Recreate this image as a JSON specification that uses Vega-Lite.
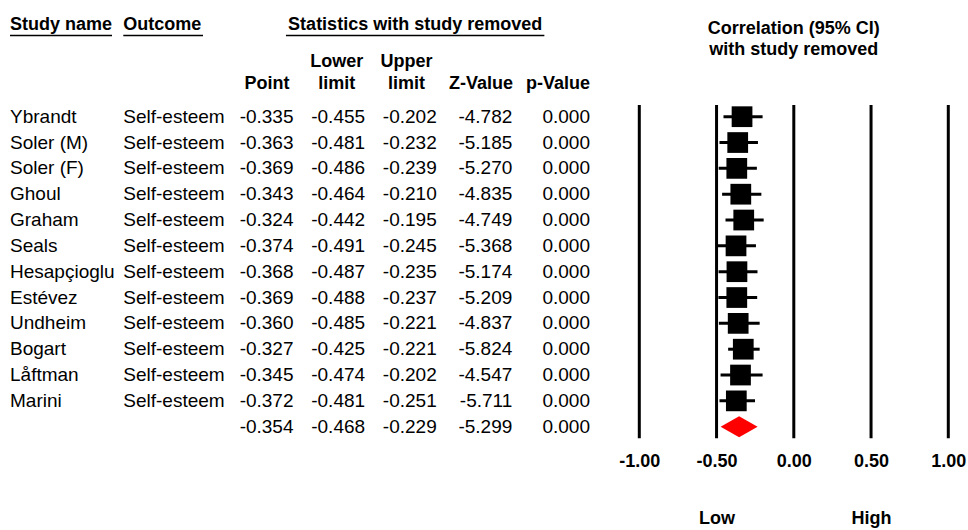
{
  "$schema": "https://vega.github.io/schema/vega-lite/v6.json",
  "width": 968,
  "height": 530,
  "autosize": {"type": "none"},
  "padding": 0,
  "background": "white",
  "config": {
    "view": {"stroke": null},
    "font": "Liberation Sans",
    "locale": {"number": {"decimal": ".", "thousands": ",", "grouping": [3], "currency": ["$", ""], "minus": "-"}}
  },
  "datasets": {
    "studies": [
      {"name": "Ybrandt", "outcome": "Self-esteem", "point": -0.335, "lower": -0.455, "upper": -0.202, "z": -4.782, "p": 0, "row": 1, "type": "study"},
      {"name": "Soler (M)", "outcome": "Self-esteem", "point": -0.363, "lower": -0.481, "upper": -0.232, "z": -5.185, "p": 0, "row": 2, "type": "study"},
      {"name": "Soler (F)", "outcome": "Self-esteem", "point": -0.369, "lower": -0.486, "upper": -0.239, "z": -5.270, "p": 0, "row": 3, "type": "study"},
      {"name": "Ghoul", "outcome": "Self-esteem", "point": -0.343, "lower": -0.464, "upper": -0.210, "z": -4.835, "p": 0, "row": 4, "type": "study"},
      {"name": "Graham", "outcome": "Self-esteem", "point": -0.324, "lower": -0.442, "upper": -0.195, "z": -4.749, "p": 0, "row": 5, "type": "study"},
      {"name": "Seals", "outcome": "Self-esteem", "point": -0.374, "lower": -0.491, "upper": -0.245, "z": -5.368, "p": 0, "row": 6, "type": "study"},
      {"name": "Hesapçioglu", "outcome": "Self-esteem", "point": -0.368, "lower": -0.487, "upper": -0.235, "z": -5.174, "p": 0, "row": 7, "type": "study"},
      {"name": "Estévez", "outcome": "Self-esteem", "point": -0.369, "lower": -0.488, "upper": -0.237, "z": -5.209, "p": 0, "row": 8, "type": "study"},
      {"name": "Undheim", "outcome": "Self-esteem", "point": -0.360, "lower": -0.485, "upper": -0.221, "z": -4.837, "p": 0, "row": 9, "type": "study"},
      {"name": "Bogart", "outcome": "Self-esteem", "point": -0.327, "lower": -0.425, "upper": -0.221, "z": -5.824, "p": 0, "row": 10, "type": "study"},
      {"name": "Låftman", "outcome": "Self-esteem", "point": -0.345, "lower": -0.474, "upper": -0.202, "z": -4.547, "p": 0, "row": 11, "type": "study"},
      {"name": "Marini", "outcome": "Self-esteem", "point": -0.372, "lower": -0.481, "upper": -0.251, "z": -5.711, "p": 0, "row": 12, "type": "study"},
      {"name": "", "outcome": "", "point": -0.354, "lower": -0.468, "upper": -0.229, "z": -5.299, "p": 0, "row": 13, "type": "summary"}
    ],
    "ticks": [{"v": -1}, {"v": -0.5}, {"v": 0}, {"v": 0.5}, {"v": 1}],
    "headLeft": [
      {"text": "Study name", "col": "name", "line": "h1"},
      {"text": "Outcome", "col": "outcome", "line": "h1"}
    ],
    "headStats": [{"text": "Statistics with study removed", "col": "stats", "line": "h1"}],
    "headCenter": [
      {"text": "Point", "col": "point", "line": "h3"},
      {"text": "Lower", "col": "lower", "line": "h2"},
      {"text": "limit", "col": "lower", "line": "h3"},
      {"text": "Upper", "col": "upper", "line": "h2"},
      {"text": "limit", "col": "upper", "line": "h3"}
    ],
    "headRight": [
      {"text": "Z-Value", "col": "z", "line": "h3"},
      {"text": "p-Value", "col": "p", "line": "h3"}
    ],
    "headCorr": [
      {"text": "Correlation (95% CI)", "col": "forest", "line": "c1"},
      {"text": "with study removed", "col": "forest", "line": "c2"}
    ]
  },
  "resolve": {"scale": {"x": "independent", "y": "independent"}, "axis": {"x": "independent", "y": "independent"}},
  "layer": [
    {
      "data": {"name": "ticks"},
      "mark": {"type": "rule", "color": "black", "strokeWidth": 3, "yOffset": -11.7, "y2Offset": 11.6},
      "encoding": {
        "x": {"field": "v", "type": "quantitative",
          "scale": {"domain": [-1, 1], "range": [639.3, 948.3], "zero": false, "nice": false},
          "axis": {"orient": "bottom", "offset": -78, "values": [-1, -0.5, 0, 0.5, 1], "format": ".2f", "domain": false, "ticks": false, "grid": false, "labelPadding": 0, "labelFontSize": 18, "labelFontWeight": "bold", "labelColor": "black", "labelFont": "Liberation Sans", "labelFlush": false, "labelOverlap": false, "labelBound": false, "title": null}},
        "y": {"datum": 1, "type": "ordinal", "scale": {"type": "point", "domain": [1, 2, 3, 4, 5, 6, 7, 8, 9, 10, 11, 12, 13], "range": [116.7, 426.7], "padding": 0}, "axis": null},
        "y2": {"datum": 13}
      }
    },
    {
      "data": {"name": "studies"},
      "transform": [{"filter": "datum.type === 'study'"}],
      "mark": {"type": "rule", "color": "black", "strokeWidth": 3},
      "encoding": {
        "x": {"field": "lower", "type": "quantitative", "scale": {"domain": [-1, 1], "range": [639.3, 948.3], "zero": false, "nice": false}, "axis": null},
        "x2": {"field": "upper"},
        "y": {"field": "row", "type": "ordinal", "scale": {"type": "point", "domain": [1, 2, 3, 4, 5, 6, 7, 8, 9, 10, 11, 12, 13], "range": [116.7, 426.7], "padding": 0}, "axis": null}
      }
    },
    {
      "data": {"name": "studies"},
      "transform": [{"filter": "datum.type === 'study'"}],
      "mark": {"type": "point", "shape": "square", "filled": true, "color": "black", "opacity": 1, "size": 430},
      "encoding": {
        "x": {"field": "point", "type": "quantitative",
          "scale": {"domain": [-1, 1], "range": [639.3, 948.3], "zero": false, "nice": false},
          "axis": {"orient": "bottom", "offset": -21, "values": [-0.5, 0.5], "labelExpr": "datum.value < 0 ? 'Low' : 'High'", "domain": false, "ticks": false, "grid": false, "labelPadding": 0, "labelFontSize": 18, "labelFontWeight": "bold", "labelColor": "black", "labelFont": "Liberation Sans", "labelFlush": false, "labelOverlap": false, "labelBound": false, "title": null}},
        "y": {"field": "row", "type": "ordinal", "scale": {"type": "point", "domain": [1, 2, 3, 4, 5, 6, 7, 8, 9, 10, 11, 12, 13], "range": [116.7, 426.7], "padding": 0}, "axis": null}
      }
    },
    {
      "data": {"name": "studies"},
      "transform": [{"filter": "datum.type === 'summary'"}],
      "mark": {"type": "point", "shape": "M -1 0 L 0 -0.57 L 1 0 L 0 0.57 Z", "filled": true, "color": "#ff0000", "opacity": 1, "size": 1369, "strokeWidth": 0},
      "encoding": {
        "x": {"field": "point", "type": "quantitative", "scale": {"domain": [-1, 1], "range": [639.3, 948.3], "zero": false, "nice": false}, "axis": null},
        "y": {"field": "row", "type": "ordinal", "scale": {"type": "point", "domain": [1, 2, 3, 4, 5, 6, 7, 8, 9, 10, 11, 12, 13], "range": [116.7, 426.7], "padding": 0}, "axis": null}
      }
    },
    {
      "data": {"name": "studies"},
      "transform": [{"filter": "datum.type === 'study'"}, {"fold": ["name", "outcome"], "as": ["col", "val"]}],
      "mark": {"type": "text", "align": "left", "baseline": "middle", "fontSize": 19, "color": "black"},
      "encoding": {
        "text": {"field": "val", "type": "nominal"},
        "x": {"field": "col", "type": "nominal", "scale": {"type": "point", "domain": ["name", "outcome"], "range": [10, 123.3], "padding": 0}, "axis": null},
        "y": {"field": "row", "type": "ordinal", "scale": {"type": "point", "domain": [1, 2, 3, 4, 5, 6, 7, 8, 9, 10, 11, 12, 13], "range": [116.7, 426.7], "padding": 0}, "axis": null}
      }
    },
    {
      "data": {"name": "studies"},
      "transform": [{"fold": ["point", "lower", "upper"], "as": ["col", "val"]}],
      "mark": {"type": "text", "align": "right", "baseline": "middle", "fontSize": 19, "color": "black"},
      "encoding": {
        "text": {"field": "val", "type": "quantitative", "format": ".3f"},
        "x": {"field": "col", "type": "nominal", "scale": {"type": "point", "domain": ["point", "lower", "upper"], "range": [293.5, 436.7], "padding": 0}, "axis": null},
        "y": {"field": "row", "type": "ordinal", "scale": {"type": "point", "domain": [1, 2, 3, 4, 5, 6, 7, 8, 9, 10, 11, 12, 13], "range": [116.7, 426.7], "padding": 0}, "axis": null}
      }
    },
    {
      "data": {"name": "studies"},
      "transform": [{"fold": ["z", "p"], "as": ["col", "val"]}],
      "mark": {"type": "text", "align": "right", "baseline": "middle", "fontSize": 19, "color": "black"},
      "encoding": {
        "text": {"field": "val", "type": "quantitative", "format": ".3f"},
        "x": {"field": "col", "type": "nominal", "scale": {"type": "point", "domain": ["z", "p"], "range": [512.3, 590], "padding": 0}, "axis": null},
        "y": {"field": "row", "type": "ordinal", "scale": {"type": "point", "domain": [1, 2, 3, 4, 5, 6, 7, 8, 9, 10, 11, 12, 13], "range": [116.7, 426.7], "padding": 0}, "axis": null}
      }
    },
    {
      "data": {"name": "headLeft"},
      "mark": {"type": "text", "align": "left", "baseline": "middle", "fontSize": 18, "fontWeight": "bold", "color": "black"},
      "encoding": {
        "text": {"field": "text", "type": "nominal"},
        "x": {"field": "col", "type": "nominal", "scale": {"type": "point", "domain": ["name", "outcome"], "range": [10, 123.3], "padding": 0}, "axis": null},
        "y": {"field": "line", "type": "nominal", "scale": {"type": "point", "domain": ["h1", "h3"], "range": [25, 84], "padding": 0}, "axis": null}
      }
    },
    {
      "data": {"name": "headLeft"},
      "transform": [{"filter": "datum.col === 'name'"}],
      "mark": {"type": "rule", "color": "black", "strokeWidth": 1.3, "yOffset": 10.5, "y2Offset": 10.5, "x2Offset": 102},
      "encoding": {
        "x": {"field": "col", "type": "nominal", "scale": {"type": "point", "domain": ["name", "outcome"], "range": [10, 123.3], "padding": 0}, "axis": null},
        "x2": {"field": "col"},
        "y": {"field": "line", "type": "nominal", "scale": {"type": "point", "domain": ["h1", "h3"], "range": [25, 84], "padding": 0}, "axis": null}
      }
    },
    {
      "data": {"name": "headLeft"},
      "transform": [{"filter": "datum.col === 'outcome'"}],
      "mark": {"type": "rule", "color": "black", "strokeWidth": 1.3, "yOffset": 10.5, "y2Offset": 10.5, "x2Offset": 79.7},
      "encoding": {
        "x": {"field": "col", "type": "nominal", "scale": {"type": "point", "domain": ["name", "outcome"], "range": [10, 123.3], "padding": 0}, "axis": null},
        "x2": {"field": "col"},
        "y": {"field": "line", "type": "nominal", "scale": {"type": "point", "domain": ["h1", "h3"], "range": [25, 84], "padding": 0}, "axis": null}
      }
    },
    {
      "data": {"name": "headStats"},
      "mark": {"type": "text", "align": "center", "baseline": "middle", "fontSize": 18, "fontWeight": "bold", "color": "black"},
      "encoding": {
        "text": {"field": "text", "type": "nominal"},
        "x": {"field": "col", "type": "nominal", "scale": {"type": "point", "domain": ["stats"], "range": [286, 544.3], "padding": 0}, "axis": null},
        "y": {"field": "line", "type": "nominal", "scale": {"type": "point", "domain": ["h1", "h3"], "range": [25, 84], "padding": 0}, "axis": null}
      }
    },
    {
      "data": {"name": "headStats"},
      "mark": {"type": "rule", "color": "black", "strokeWidth": 1.3, "yOffset": 10.5, "y2Offset": 10.5, "xOffset": -129.2, "x2Offset": 129.2},
      "encoding": {
        "x": {"field": "col", "type": "nominal", "scale": {"type": "point", "domain": ["stats"], "range": [286, 544.3], "padding": 0}, "axis": null},
        "x2": {"field": "col"},
        "y": {"field": "line", "type": "nominal", "scale": {"type": "point", "domain": ["h1", "h3"], "range": [25, 84], "padding": 0}, "axis": null}
      }
    },
    {
      "data": {"name": "headCenter"},
      "mark": {"type": "text", "align": "center", "baseline": "middle", "fontSize": 18, "fontWeight": "bold", "color": "black"},
      "encoding": {
        "text": {"field": "text", "type": "nominal"},
        "x": {"field": "col", "type": "nominal", "scale": {"type": "point", "domain": ["point", "lower", "upper"], "range": [267, 406.5], "padding": 0}, "axis": null},
        "y": {"field": "line", "type": "nominal", "scale": {"type": "point", "domain": ["h2", "h3"], "range": [61.5, 84], "padding": 0}, "axis": null}
      }
    },
    {
      "data": {"name": "headRight"},
      "mark": {"type": "text", "align": "right", "baseline": "middle", "fontSize": 18, "fontWeight": "bold", "color": "black"},
      "encoding": {
        "text": {"field": "text", "type": "nominal"},
        "x": {"field": "col", "type": "nominal", "scale": {"type": "point", "domain": ["z", "p"], "range": [513, 590], "padding": 0}, "axis": null},
        "y": {"field": "line", "type": "nominal", "scale": {"type": "point", "domain": ["h1", "h3"], "range": [25, 84], "padding": 0}, "axis": null}
      }
    },
    {
      "data": {"name": "headCorr"},
      "mark": {"type": "text", "align": "center", "baseline": "middle", "fontSize": 18, "fontWeight": "bold", "color": "black"},
      "encoding": {
        "text": {"field": "text", "type": "nominal"},
        "x": {"field": "col", "type": "nominal", "scale": {"type": "point", "domain": ["forest"], "range": [639.3, 948.3], "padding": 0}, "axis": null},
        "y": {"field": "line", "type": "nominal", "scale": {"type": "point", "domain": ["c1", "c2"], "range": [29, 50], "padding": 0}, "axis": null}
      }
    }
  ]
}
